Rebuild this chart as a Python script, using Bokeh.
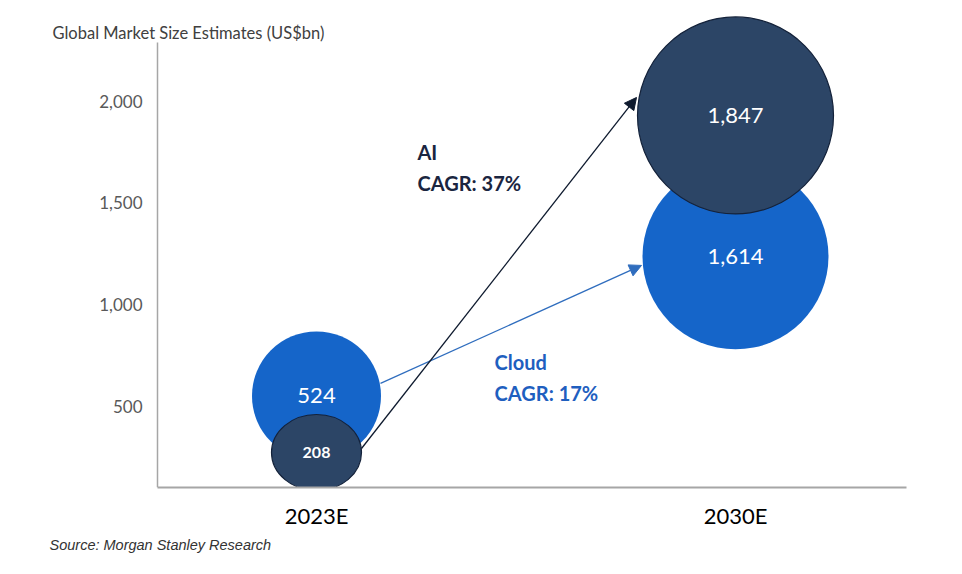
from bokeh.plotting import figure
from bokeh.models import (ColumnDataSource, Range1d, FixedTicker, Label, Arrow,
                          NormalHead, Title)
from bokeh.embed import file_html
from bokeh.resources import INLINE
from bokeh.core.properties import value

# ---------------- data ----------------
categories = ["2023E", "2030E"]
cloud_values = [524, 1614]
ai_values = [208, 1847]
# vertical positions of bubble centres (US$bn scale)
cloud_bubble_y = [550, 1236]
ai_bubble_y = [272, 1929]
y_ticks = [500, 1000, 1500, 2000]
ai_cagr = "AI"
ai_cagr_text = "CAGR: 37%"
cloud_cagr = "Cloud"
cloud_cagr_text = "CAGR: 17%"
title_text = "Global Market Size Estimates (US$bn)"
source_text = "Source: Morgan Stanley Research"

# ---------------- style ----------------
FONT = "Lato"
CLOUD_BLUE = "#1565C9"
AI_NAVY = "#2C4566"
AI_EDGE = "#14223A"
cloud_diam_px = [129, 186]
ai_w_px = [90, 196]
ai_h_px = [76, 197]

W, H = 950, 566
ML, MR, MT, MB = 50, 44, 10, 79
PXX = 419.0
x_start = (ML - 316) / PXX
x_end = 1 + (906 - 735) / PXX
y_axis_x = (157 - 316) / PXX
y_start, y_end = 100, 2445
px_x = (W - ML - MR) / (x_end - x_start)
px_y = (H - MT - MB) / (y_end - y_start)

def dx(px):
    return px / px_x

def dy(px):
    return -px / px_y

xs = list(range(len(categories)))

p = figure(width=W, height=H, output_backend="svg", toolbar_location=None,
           x_range=Range1d(x_start, x_end), y_range=Range1d(y_start, y_end),
           min_border_left=ML, min_border_right=MR, min_border_top=MT,
           min_border_bottom=MB, background_fill_color="white",
           border_fill_color="white", outline_line_color=None)
p.grid.visible = False

# axes
p.xaxis.ticker = FixedTicker(ticks=xs)
p.xaxis.major_label_overrides = {i: c for i, c in zip(xs, categories)}
p.xaxis.major_tick_line_color = None
p.xaxis.minor_tick_line_color = None
p.xaxis.axis_line_color = "#A6A6A6"
p.xaxis.axis_line_width = 2
p.xaxis.bounds = (y_axis_x, x_end)
p.xaxis.major_label_text_font = FONT
p.xaxis.major_label_text_font_size = "22px"
p.xaxis.major_label_text_color = "#000000"
p.xaxis.major_label_standoff = 8

p.yaxis.fixed_location = y_axis_x
p.yaxis.ticker = FixedTicker(ticks=y_ticks)
p.yaxis.major_label_overrides = {t: f"{t:,}" for t in y_ticks}
p.yaxis.major_tick_line_color = None
p.yaxis.minor_tick_line_color = None
p.yaxis.axis_line_color = "#A6A6A6"
p.yaxis.axis_line_width = 1.5
p.yaxis.bounds = (100, 2290)
p.yaxis.major_label_text_font = FONT
p.yaxis.major_label_text_font_size = "17px"
p.yaxis.major_label_text_color = "#595959"
p.yaxis.major_label_standoff = 9

# bubbles
cloud_src = ColumnDataSource(dict(x=xs, y=cloud_bubble_y, d=cloud_diam_px,
                                  t=[f"{v:,}" for v in cloud_values]))
ai_src = ColumnDataSource(dict(x=xs, y=ai_bubble_y, w=ai_w_px, h=ai_h_px,
                               t=[f"{v:,}" for v in ai_values],
                               fs=["16px", "22px"], fw=["bold", "normal"]))

p.ellipse(x="x", y="y", width="d", height="d", width_units="screen",
          height_units="screen", source=cloud_src, fill_color=CLOUD_BLUE,
          line_color=None)
p.ellipse(x="x", y="y", width="w", height="h", width_units="screen",
          height_units="screen", source=ai_src, fill_color=AI_NAVY,
          line_color=AI_EDGE, line_width=1.2)

p.text(x="x", y="y", text="t", source=cloud_src, text_color="white",
       text_font=value(FONT), text_font_size="22px", text_align="center",
       text_baseline="middle")
p.text(x="x", y="y", text="t", source=ai_src, text_color="white",
       text_font=value(FONT), text_font_size="fs", text_font_style="fw",
       text_align="center", text_baseline="middle")

# arrows (anchored on bubble centres, offsets in pixels)
cloud_arrow_col = "#2F6DBE"
ai_arrow_col = "#0E1A2E"
p.add_layout(Arrow(end=NormalHead(size=12, fill_color=cloud_arrow_col,
                                  line_color=cloud_arrow_col),
                   x_start=xs[0] + dx(64), y_start=cloud_bubble_y[0] + dy(-12.5),
                   x_end=xs[1] + dx(-94), y_end=cloud_bubble_y[1] + dy(9),
                   line_color=cloud_arrow_col, line_width=1.3))
p.add_layout(Arrow(end=NormalHead(size=12, fill_color=ai_arrow_col,
                                  line_color=ai_arrow_col),
                   x_start=xs[0] + dx(45), y_start=ai_bubble_y[0] + dy(-4),
                   x_end=xs[1] + dx(-99), y_end=ai_bubble_y[1] + dy(-18),
                   line_color=ai_arrow_col, line_width=1.3))

# CAGR annotations
AI_TXT = "#1A2540"
CL_TXT = "#1F5FBF"
for txt, yy, col, xx in [(ai_cagr, 1747, AI_TXT, 0.241),
                          (ai_cagr_text, 1595, AI_TXT, 0.241),
                          (cloud_cagr, 719, CL_TXT, 0.425),
                          (cloud_cagr_text, 567, CL_TXT, 0.425)]:
    p.add_layout(Label(x=xx, y=yy, text=txt, text_font=FONT,
                       text_font_size="20px", text_font_style="bold",
                       text_color=col, text_baseline="middle",
                       text_align="left"))

# title and source
p.add_layout(Label(x=(52 - 316) / PXX, y=2332, text=title_text, text_font=FONT,
                   text_font_size="16.5px", text_color="#404040",
                   text_baseline="middle", text_align="left"))
p.add_layout(Title(text=source_text, align="left", offset=-1,
                   text_font="Liberation Sans", text_font_size="14.5px",
                   text_font_style="italic", text_color="#333333",
                   standoff=6), "below")

open("out.html", "w").write(file_html(p, INLINE))
